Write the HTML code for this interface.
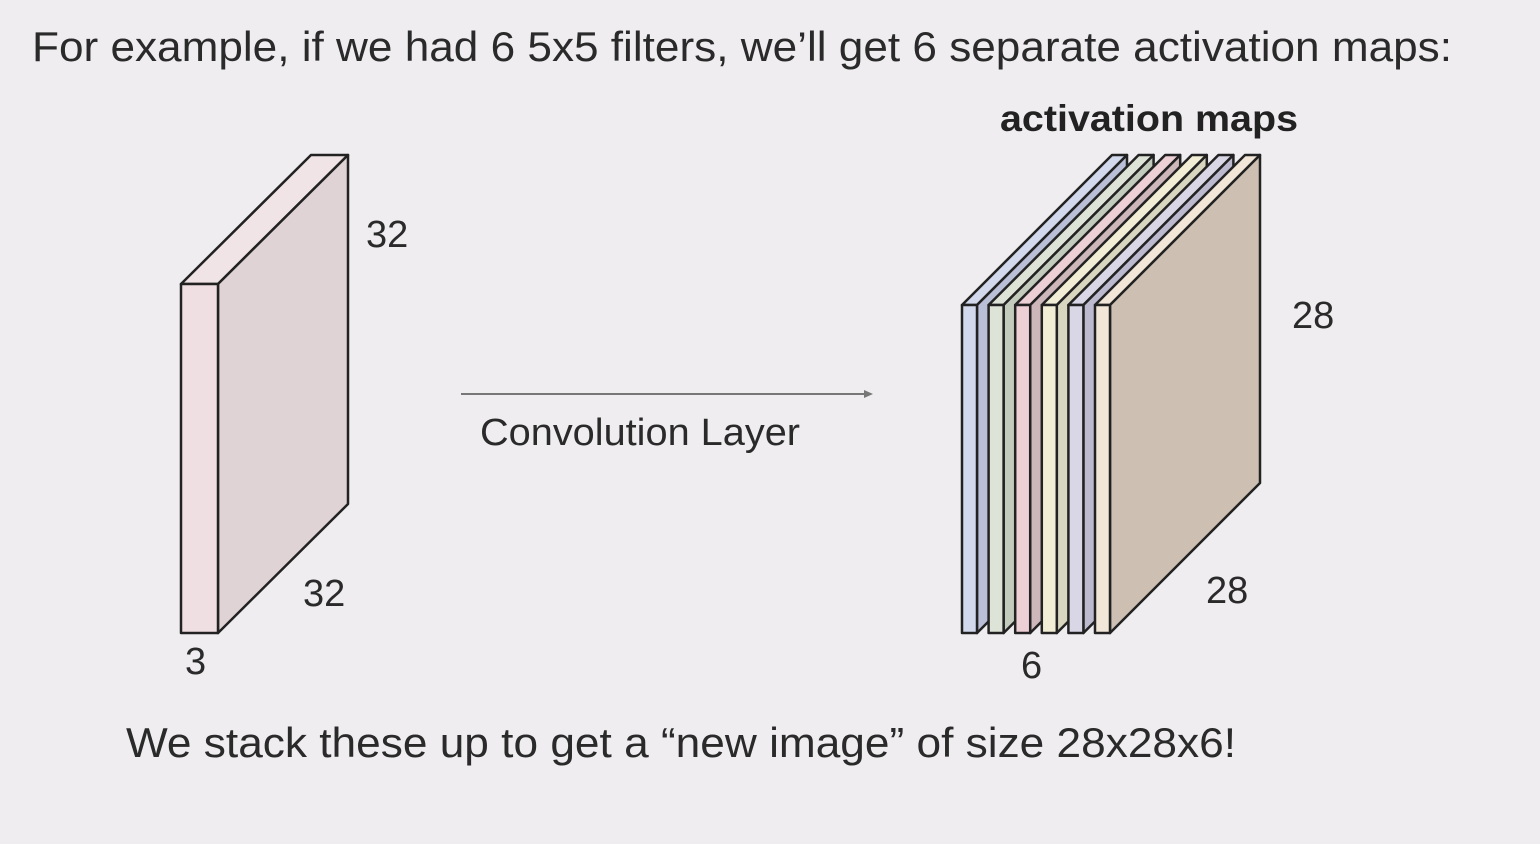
<!DOCTYPE html>
<html><head><meta charset="utf-8"><style>
html,body{margin:0;padding:0;background:#efedf0;}
svg{display:block;font-family:"Liberation Sans",sans-serif;}
</style></head><body>
<svg width="1540" height="844" viewBox="0 0 1540 844">
<rect width="1540" height="844" fill="#efedf0"/>
<text x="32" y="61" font-size="42" textLength="1420" lengthAdjust="spacingAndGlyphs" fill="#2a2a2a">For example, if we had 6 5x5 filters, we’ll get 6 separate activation maps:</text>
<g stroke="#222" stroke-width="2.5" stroke-linejoin="round">
<polygon points="181,284 218,284 348,155 311,155" fill="#f1e4e6"/>
<polygon points="218,284 348,155 348,504 218,633" fill="#e0d3d5"/>
<rect x="181" y="284" width="37" height="349" fill="#efdfe2"/>
</g>
<text x="366" y="247" font-size="38" fill="#2a2a2a">32</text>
<text x="303" y="606" font-size="38" fill="#2a2a2a">32</text>
<text x="185" y="674" font-size="38" fill="#2a2a2a">3</text>
<g>
<line x1="461" y1="394" x2="866" y2="394" stroke="#777" stroke-width="2"/>
<polygon points="873,394 864,390 864,398" fill="#777"/>
</g>
<text x="480" y="445" font-size="38" textLength="320" lengthAdjust="spacingAndGlyphs" fill="#2a2a2a">Convolution Layer</text>
<text x="1000" y="131" font-size="37" textLength="298" lengthAdjust="spacingAndGlyphs" font-weight="bold" fill="#222">activation maps</text>
<g id="maps" stroke="#222" stroke-width="2.5" stroke-linejoin="round"></g>
<text x="1292" y="328" font-size="38" fill="#2a2a2a">28</text>
<text x="1206" y="603" font-size="38" fill="#2a2a2a">28</text>
<text x="1021" y="678" font-size="38" fill="#2a2a2a">6</text>
<text x="126" y="757" font-size="42" textLength="1110" lengthAdjust="spacingAndGlyphs" fill="#2a2a2a">We stack these up to get a “new image” of size 28x28x6!</text>
</svg>
<script>
const fronts=["#d3d9ec","#dde3d6","#ecd0d6","#f2eed6","#d9d6e6","#f1e6d8"];
const sides=["#b9bfd6","#c3cbbd","#cdb7bb","#d9d6bf","#bdbad0","#cdc0b3"];
const g=document.getElementById('maps');
const NS="http://www.w3.org/2000/svg";
for(let i=0;i<6;i++){
  const x0=962+26.6*i,w=15,top=305,bot=633,d=150;
  const sg=document.createElementNS(NS,'g');
  
  
  const t=document.createElementNS(NS,'polygon');
  t.setAttribute('points',`${x0},${top} ${x0+w},${top} ${x0+w+d},${top-d} ${x0+d},${top-d}`);
  t.setAttribute('fill',fronts[i]);
  const s=document.createElementNS(NS,'polygon');
  s.setAttribute('points',`${x0+w},${top} ${x0+w+d},${top-d} ${x0+w+d},${bot-d} ${x0+w},${bot}`);
  s.setAttribute('fill',sides[i]);
  const f=document.createElementNS(NS,'rect');
  f.setAttribute('x',x0);f.setAttribute('y',top);f.setAttribute('width',w);f.setAttribute('height',bot-top);
  f.setAttribute('fill',fronts[i]);
  sg.appendChild(t);sg.appendChild(s);sg.appendChild(f);
  g.appendChild(sg);
}
</script>
</body></html>
